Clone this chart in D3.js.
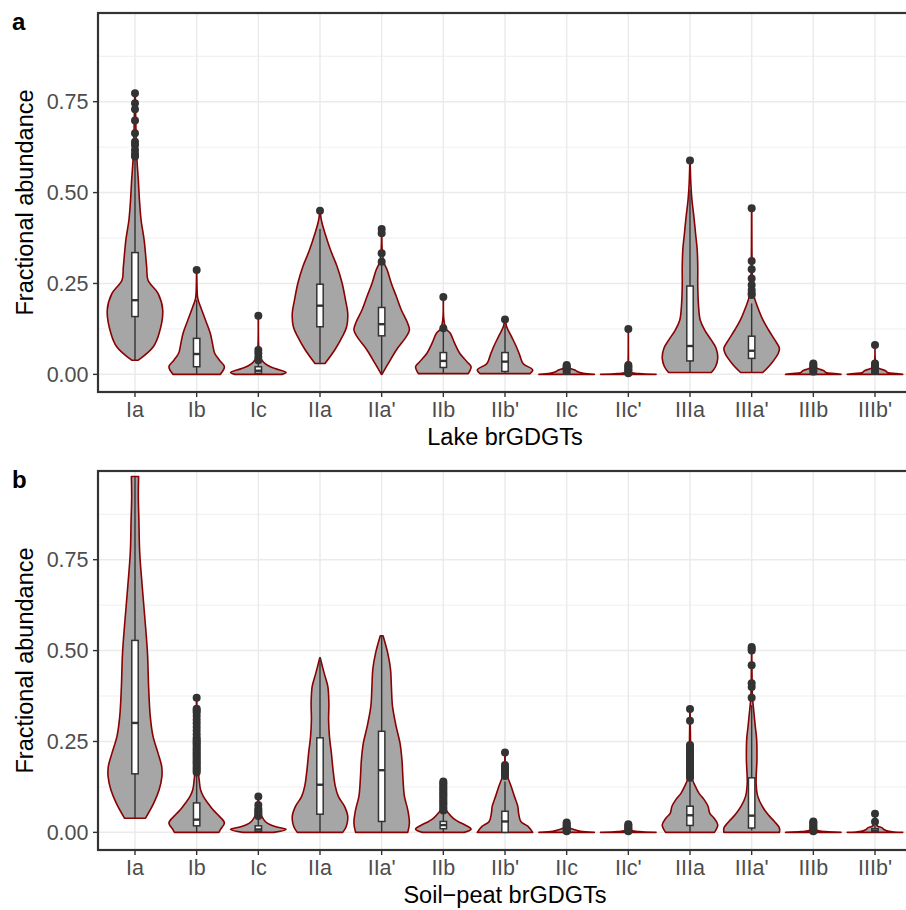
<!DOCTYPE html>
<html><head><meta charset="utf-8">
<script src="https://cdn.jsdelivr.net/npm/d3@7"></script>
<style>body{margin:0;background:#fff} svg{display:block} text{font-family:"Liberation Sans",Arial,Helvetica,sans-serif}</style>
</head><body><svg id="chart" width="906" height="910"></svg>
<script>
const categories = ["Ia","Ib","Ic","IIa","IIa'","IIb","IIb'","IIc","IIc'","IIIa","IIIa'","IIIb","IIIb'"];
const yTicks = [0, 0.25, 0.5, 0.75];
const yTickLabels = ["0.00","0.25","0.50","0.75"];
const yMinor = [0.125, 0.375, 0.625, 0.875];
const panelLabels = ["a", "b"];
const xTitles = ["Lake brGDGTs", "Soil\u2212peat brGDGTs"];
const yTitle = "Fractional abundance";

// box stats per category: [lower whisker, q1, median, q3, upper whisker]
const lakeBox = [
  [0.039, 0.159, 0.204, 0.335, 0.595],
  [0.0, 0.021, 0.056, 0.099, 0.205],
  [0.0, 0.003, 0.010, 0.021, 0.035],
  [0.030, 0.131, 0.189, 0.248, 0.400],
  [0.0, 0.106, 0.138, 0.184, 0.300],
  [0.002, 0.019, 0.037, 0.060, 0.120],
  [0.002, 0.008, 0.035, 0.060, 0.135],
  [0.0, 0.001, 0.002, 0.004, 0.008],
  [0.0, 0.0, 0.0005, 0.001, 0.002],
  [0.005, 0.037, 0.078, 0.243, 0.507],
  [0.005, 0.044, 0.065, 0.105, 0.195],
  [0.0, 0.0005, 0.001, 0.002, 0.004],
  [0.0, 0.001, 0.002, 0.004, 0.007]
];
const lakeOutliers = [
  [0.773, 0.746, 0.729, 0.698, 0.663, 0.640, 0.631, 0.617, 0.606, 0.599],
  [0.287],
  [0.161, 0.067, 0.058, 0.048, 0.039],
  [0.450],
  [0.400, 0.388, 0.333, 0.310],
  [0.213, 0.127],
  [0.151],
  [0.010, 0.014, 0.018, 0.022, 0.026],
  [0.125, 0.026, 0.022, 0.018, 0.014, 0.010, 0.006, 0.003],
  [0.588],
  [0.457, 0.312, 0.289, 0.264, 0.246, 0.232, 0.223, 0.218],
  [0.008, 0.012, 0.016, 0.020, 0.025, 0.030],
  [0.081, 0.030, 0.025, 0.020, 0.015, 0.010]
];
// violin outline: [value, relative half-width]
const lakeViolin = [
  [[0.039,0.12],[0.076,0.66],[0.113,0.87],[0.177,1.0],[0.223,0.83],[0.259,0.47],[0.296,0.42],[0.369,0.33],[0.424,0.22],[0.48,0.16],[0.535,0.12],[0.59,0.07],[0.65,0.04],[0.773,0.01]],
  [[0,0.85],[0.021,1.0],[0.039,0.82],[0.058,0.65],[0.085,0.57],[0.113,0.49],[0.149,0.32],[0.186,0.14],[0.209,0.04],[0.25,0.01],[0.287,0.005]],
  [[0,0.85],[0.005,1.0],[0.016,0.6],[0.025,0.33],[0.034,0.18],[0.048,0.07],[0.07,0.02],[0.161,0.004]],
  [[0.03,0.18],[0.067,0.53],[0.103,0.8],[0.131,0.96],[0.168,1.0],[0.204,0.92],[0.25,0.8],[0.296,0.62],[0.342,0.38],[0.388,0.18],[0.424,0.05],[0.45,0.005]],
  [[0,0.01],[0.03,0.24],[0.067,0.53],[0.103,0.88],[0.122,1.0],[0.14,0.94],[0.177,0.71],[0.214,0.53],[0.25,0.35],[0.287,0.2],[0.31,0.07],[0.34,0.02],[0.40,0.005]],
  [[0.002,0.9],[0.021,1.0],[0.034,0.86],[0.058,0.59],[0.085,0.41],[0.113,0.25],[0.125,0.1],[0.15,0.02],[0.213,0.005]],
  [[0.002,0.9],[0.012,1.0],[0.03,0.65],[0.053,0.53],[0.076,0.41],[0.103,0.24],[0.131,0.06],[0.151,0.005]],
  [[0,1.0],[0.003,0.6],[0.007,0.4],[0.012,0.3],[0.017,0.12],[0.022,0.04],[0.027,0.01]],
  [[0,1.0],[0.002,0.4],[0.005,0.1],[0.01,0.03],[0.03,0.01],[0.125,0.003]],
  [[0.005,0.77],[0.021,0.92],[0.044,1.0],[0.072,0.94],[0.094,0.77],[0.122,0.53],[0.149,0.37],[0.186,0.31],[0.241,0.28],[0.296,0.28],[0.342,0.26],[0.388,0.2],[0.434,0.14],[0.48,0.07],[0.525,0.03],[0.588,0.005]],
  [[0.005,0.4],[0.03,0.71],[0.058,0.96],[0.072,1.0],[0.094,0.84],[0.122,0.61],[0.149,0.41],[0.186,0.21],[0.213,0.09],[0.24,0.04],[0.3,0.015],[0.457,0.005]],
  [[0,1.0],[0.002,0.75],[0.005,0.45],[0.01,0.38],[0.015,0.2],[0.02,0.06],[0.032,0.01]],
  [[0,1.0],[0.002,0.75],[0.005,0.45],[0.01,0.38],[0.015,0.2],[0.02,0.06],[0.04,0.01],[0.081,0.003]]
];

const soilBox = [
  [0.039, 0.161, 0.301, 0.528, 0.979],
  [0.0, 0.018, 0.035, 0.081, 0.160],
  [0.0, 0.003, 0.008, 0.018, 0.040],
  [0.0, 0.050, 0.131, 0.260, 0.480],
  [0.0, 0.030, 0.171, 0.278, 0.541],
  [0.0, 0.010, 0.020, 0.030, 0.055],
  [0.0, 0.0, 0.030, 0.058, 0.140],
  [0.0, 0.0, 0.001, 0.002, 0.003],
  [0.0, 0.0, 0.0005, 0.001, 0.002],
  [0.0, 0.019, 0.047, 0.072, 0.148],
  [0.005, 0.012, 0.046, 0.150, 0.350],
  [0.0, 0.0, 0.0005, 0.001, 0.002],
  [0.0, 0.002, 0.005, 0.010, 0.018]
];
const soilOutliers = [
  [],
  [0.165,0.17,0.175,0.18,0.185,0.19,0.195,0.2,0.205,0.21,0.215,0.22,0.225,0.23,0.235,0.24,0.245,0.25,0.255,0.26,0.27,0.28,0.29,0.30,0.31,0.32,0.33,0.335,0.34,0.37],
  [0.045,0.05,0.055,0.06,0.065,0.075,0.099],
  [],
  [],
  [0.06,0.065,0.07,0.075,0.08,0.085,0.09,0.095,0.1,0.105,0.11,0.115,0.12,0.125,0.13,0.135,0.14],
  [0.155,0.16,0.165,0.17,0.175,0.18,0.185,0.22],
  [0.003,0.007,0.011,0.015,0.019,0.023,0.027],
  [0.003,0.007,0.011,0.015,0.019,0.022],
  [0.15,0.155,0.16,0.165,0.17,0.175,0.18,0.185,0.19,0.195,0.2,0.205,0.21,0.215,0.22,0.225,0.23,0.235,0.24,0.307,0.339],
  [0.51,0.505,0.50,0.46,0.41,0.40,0.37],
  [0.003,0.007,0.011,0.015,0.019,0.023,0.027,0.03],
  [0.029,0.051]
];
const soilViolin = [
  [[0.039,0.38],[0.081,0.68],[0.117,0.87],[0.154,0.97],[0.182,0.96],[0.218,0.83],[0.264,0.65],[0.319,0.55],[0.402,0.49],[0.493,0.45],[0.585,0.36],[0.677,0.26],[0.769,0.17],[0.86,0.14],[0.924,0.12],[0.979,0.13]],
  [[0,0.8],[0.007,0.85],[0.026,1.0],[0.044,0.82],[0.062,0.59],[0.081,0.4],[0.099,0.24],[0.117,0.14],[0.145,0.09],[0.172,0.05],[0.22,0.025],[0.3,0.015],[0.37,0.005]],
  [[0,0.55],[0.008,1.0],[0.014,0.7],[0.02,0.45],[0.03,0.25],[0.045,0.12],[0.06,0.05],[0.08,0.02],[0.1,0.005]],
  [[0,0.82],[0.017,0.95],[0.044,1.0],[0.072,0.88],[0.099,0.66],[0.127,0.55],[0.172,0.47],[0.218,0.41],[0.264,0.34],[0.31,0.31],[0.356,0.32],[0.402,0.28],[0.438,0.15],[0.48,0.01]],
  [[0,0.94],[0.026,1.0],[0.062,0.94],[0.099,0.82],[0.145,0.77],[0.2,0.73],[0.246,0.66],[0.292,0.52],[0.347,0.39],[0.402,0.35],[0.448,0.32],[0.493,0.22],[0.541,0.05]],
  [[0,0.75],[0.009,1.0],[0.021,0.77],[0.03,0.53],[0.039,0.35],[0.053,0.18],[0.062,0.1],[0.08,0.04],[0.11,0.02],[0.14,0.005]],
  [[0,1.0],[0.017,0.82],[0.03,0.57],[0.053,0.49],[0.072,0.46],[0.099,0.34],[0.127,0.22],[0.154,0.09],[0.18,0.02],[0.22,0.005]],
  [[0,1.0],[0.003,0.5],[0.007,0.3],[0.012,0.12],[0.018,0.04],[0.027,0.01]],
  [[0,1.0],[0.002,0.4],[0.005,0.12],[0.01,0.04],[0.022,0.01]],
  [[0,0.88],[0.021,1.0],[0.039,0.87],[0.053,0.71],[0.072,0.65],[0.09,0.51],[0.108,0.32],[0.127,0.19],[0.145,0.09],[0.17,0.04],[0.24,0.02],[0.339,0.005]],
  [[0,1.0],[0.012,1.0],[0.03,0.82],[0.049,0.59],[0.072,0.38],[0.099,0.22],[0.136,0.16],[0.2,0.19],[0.255,0.18],[0.292,0.13],[0.338,0.07],[0.37,0.03],[0.45,0.01],[0.51,0.003]],
  [[0,1.0],[0.002,0.45],[0.005,0.15],[0.01,0.05],[0.03,0.01]],
  [[0,1.0],[0.003,0.5],[0.008,0.32],[0.013,0.25],[0.018,0.08],[0.03,0.02],[0.051,0.005]]
];

const panels = [
  {box: lakeBox, out: lakeOutliers, vio: lakeViolin, top: 13, bottom: 392},
  {box: soilBox, out: soilOutliers, vio: soilViolin, top: 471, bottom: 850}
];

const svg = d3.select("#chart");
const left = 98, right = 912;
const x = d3.scalePoint().domain(categories).range([left, right]).padding(0.6);
const halfMax = x.step() * 0.45;
const w = d3.scaleLinear().domain([0, 1]).range([0, halfMax]);

panels.forEach((p, pi) => {
  const y = d3.scaleLinear().domain([-0.0485, 0.994]).range([p.bottom, p.top]);
  const g = svg.append("g");
  const clipId = "clip" + pi;
  svg.append("clipPath").attr("id", clipId).append("rect")
    .attr("x", left).attr("y", p.top).attr("width", right - left).attr("height", p.bottom - p.top);
  const grid = g.append("g").attr("clip-path", `url(#${clipId})`);
  grid.selectAll(".minor").data(yMinor).join("line")
    .attr("x1", left).attr("x2", right).attr("y1", d => y(d)).attr("y2", d => y(d))
    .attr("stroke", "#EBEBEB").attr("stroke-width", 0.8);
  grid.selectAll(".major").data(yTicks).join("line")
    .attr("x1", left).attr("x2", right).attr("y1", d => y(d)).attr("y2", d => y(d))
    .attr("stroke", "#EBEBEB").attr("stroke-width", 1.5);
  grid.selectAll(".vmajor").data(categories).join("line")
    .attr("x1", d => x(d)).attr("x2", d => x(d)).attr("y1", p.top).attr("y2", p.bottom)
    .attr("stroke", "#EBEBEB").attr("stroke-width", 1.5);

  // violins
  categories.forEach((c, i) => {
    const cx = x(c);
    const area = d3.area()
      .curve(d3.curveCatmullRom.alpha(0.5))
      .y(d => y(d[0]))
      .x0(d => cx - w(d[1]))
      .x1(d => cx + w(d[1]));
    g.append("path").attr("d", area(p.vio[i]))
      .attr("fill", "#A6A6A6").attr("stroke", "#8B0000").attr("stroke-width", 1.6)
      .attr("stroke-linejoin", "round");
  });
  // boxplots
  categories.forEach((c, i) => {
    const cx = x(c);
    const [lo, q1, med, q3, hi] = p.box[i];
    g.append("line").attr("x1", cx).attr("x2", cx).attr("y1", y(lo)).attr("y2", y(hi))
      .attr("stroke", "#333333").attr("stroke-width", 1.4);
    g.append("rect").attr("x", cx - 3.2).attr("width", 6.4)
      .attr("y", y(q3)).attr("height", Math.max(0.01, y(q1) - y(q3)))
      .attr("fill", "#FFFFFF").attr("stroke", "#333333").attr("stroke-width", 1.5);
    g.append("line").attr("x1", cx - 3.2).attr("x2", cx + 3.2).attr("y1", y(med)).attr("y2", y(med))
      .attr("stroke", "#333333").attr("stroke-width", 2.4);
    g.selectAll(null).data(p.out[i]).join("circle")
      .attr("cx", cx).attr("cy", d => y(d)).attr("r", 4).attr("fill", "#333333");
  });

  // panel border
  g.append("rect").attr("x", left).attr("y", p.top).attr("width", right - left).attr("height", p.bottom - p.top)
    .attr("fill", "none").attr("stroke", "#333333").attr("stroke-width", 2.2);

  // y axis ticks and labels
  g.selectAll(".yt").data(yTicks).join("line")
    .attr("x1", left - 5).attr("x2", left).attr("y1", d => y(d)).attr("y2", d => y(d))
    .attr("stroke", "#333333").attr("stroke-width", 1.4);
  g.selectAll(".yl").data(yTicks).join("text")
    .attr("x", left - 9.5).attr("y", d => y(d)).attr("dy", "0.36em")
    .attr("text-anchor", "end").attr("font-size", 21.5).attr("fill", "#4D4D4D")
    .text((d, j) => yTickLabels[j]);
  // x axis ticks and labels
  g.selectAll(".xt").data(categories).join("line")
    .attr("x1", d => x(d)).attr("x2", d => x(d)).attr("y1", p.bottom).attr("y2", p.bottom + 5)
    .attr("stroke", "#333333").attr("stroke-width", 1.4);
  g.selectAll(".xl").data(categories).join("text")
    .attr("x", d => x(d)).attr("y", p.bottom + 24.7)
    .attr("text-anchor", "middle").attr("font-size", 21.5).attr("fill", "#4D4D4D")
    .text(d => d);
  // titles
  g.append("text").attr("x", (left + right) / 2).attr("y", p.bottom + 52.5)
    .attr("text-anchor", "middle").attr("font-size", 23.5).attr("fill", "#000")
    .text(xTitles[pi]);
  const cy = (p.top + p.bottom) / 2;
  g.append("text").attr("transform", `translate(33,${cy}) rotate(-90)`)
    .attr("text-anchor", "middle").attr("font-size", 23.5).attr("fill", "#000")
    .text(yTitle);
  g.append("text").attr("x", 12).attr("y", p.top + 16.5)
    .attr("font-size", 24).attr("font-weight", "bold").attr("fill", "#000")
    .text(panelLabels[pi]);
});
</script></body></html>
